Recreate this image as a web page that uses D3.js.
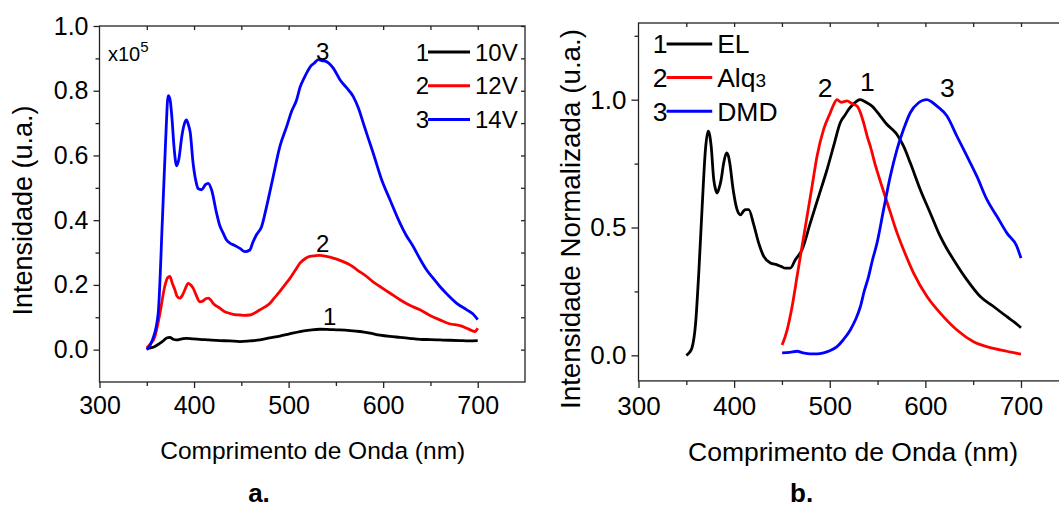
<!DOCTYPE html>
<html>
<head>
<meta charset="utf-8">
<script src="https://cdn.jsdelivr.net/npm/d3@7"></script>
<style>
  body { margin: 0; background: #fff; }
  svg text { font-family: "Liberation Sans", Arial, sans-serif; fill: #000; }
  .frame { fill: none; stroke: #222; stroke-width: 1.3; }
  .tick line { stroke: #222; stroke-width: 1.3; }
  .curve { fill: none; stroke-width: 2.8; stroke-linejoin: round; }
</style>
</head>
<body>
<svg width="1059" height="509"></svg>
<script>
var svg = d3.select("svg");

// panel a. : spectra at three voltages  [wavelength nm, intensity x10^5]
var v10 = [[350,0.003],[355,0.006],[358.5,0.01],[363,0.018],[367.3,0.027],[371,0.036],[374.4,0.038],[378,0.032],
  [381.5,0.03],[387,0.033],[392,0.035],[399,0.033],[406,0.032],[416,0.03],[427.3,0.028],[438,0.027],[448.5,0.025],
  [459,0.027],[469.7,0.03],[480,0.036],[490.8,0.042],[500,0.048],[512,0.056],[522,0.06],[533,0.063],[544,0.062],
  [554,0.061],[565,0.059],[575.4,0.056],[586,0.051],[596.6,0.045],[607,0.041],[617.8,0.038],[628,0.035],[639,0.032],
  [650,0.031],[660,0.03],[670,0.029],[681.3,0.028],[690,0.027],[700,0.028]];

var v12 = [[350,0.005],[353,0.015],[358.5,0.04],[363.8,0.11],[369,0.195],[372,0.222],[374.4,0.226],[377,0.205],
  [379.7,0.185],[382,0.165],[385,0.159],[388,0.17],[390.3,0.185],[393.8,0.205],[396.5,0.2],[399,0.19],[402,0.17],
  [406,0.148],[409,0.15],[413,0.158],[415,0.159],[418,0.152],[420.2,0.143],[427.3,0.128],[432,0.118],[437.9,0.112],
  [443,0.108],[448.5,0.107],[453,0.106],[459,0.107],[464,0.113],[469.7,0.123],[475,0.132],[480.3,0.143],[485,0.16],
  [490.8,0.18],[496,0.2],[501.4,0.22],[507,0.245],[512,0.267],[517,0.28],[522.5,0.288],[528,0.29],[533,0.291],
  [540,0.288],[547.2,0.283],[555,0.275],[564.9,0.262],[573,0.245],[582.5,0.226],[589,0.21],[596.6,0.195],[607,0.175],
  [617.8,0.154],[628,0.137],[639,0.123],[650,0.105],[660,0.092],[670,0.08],[681.3,0.074],[690,0.064],[697,0.056],
  [700,0.066]];

var v14 = [[350,0],[356,0.03],[362,0.11],[366.5,0.4],[370,0.65],[372.6,0.785],[374.5,0.775],[376.5,0.72],[379,0.62],
  [381.5,0.568],[384,0.59],[387,0.658],[390,0.7],[392,0.71],[394,0.695],[396,0.67],[399,0.576],[402,0.52],
  [404.5,0.497],[408,0.494],[412,0.51],[415,0.514],[418.5,0.494],[423.8,0.422],[427,0.385],[430.8,0.36],[434,0.34],
  [437.9,0.329],[443,0.322],[448.5,0.313],[453.8,0.303],[459,0.308],[462,0.33],[466,0.355],[471.4,0.38],
  [476.7,0.442],[483.7,0.535],[490.8,0.628],[497.9,0.689],[503,0.735],[508.5,0.772],[512,0.81],[516.5,0.84],
  [520,0.86],[523.6,0.877],[527,0.885],[531.3,0.896],[535,0.893],[540,0.89],[547.2,0.87],[554.3,0.834],[561,0.81],
  [568.4,0.782],[574,0.745],[579,0.7],[584,0.655],[589.5,0.607],[598.4,0.525],[607.2,0.463],[617.8,0.391],
  [624,0.355],[631.9,0.318],[639,0.28],[646,0.246],[653,0.22],[660,0.195],[668,0.17],[677.8,0.143],[688.4,0.123],
  [695,0.11],[700,0.093]];

// panel b. : normalized spectra
var el = [[350,0],[353,0.01],[356,0.03],[359.6,0.12],[363,0.32],[366.6,0.583],[370,0.805],[372.8,0.877],[374.5,0.86],
  [376,0.818],[378.7,0.687],[380.5,0.65],[382.2,0.635],[384,0.65],[386.4,0.687],[389,0.75],[392,0.792],[394,0.78],
  [395.4,0.753],[399,0.648],[403.1,0.57],[406.6,0.55],[410,0.565],[411.8,0.57],[415.3,0.57],[420.5,0.511],
  [425.7,0.439],[431,0.387],[437.9,0.361],[444.9,0.354],[449,0.348],[453.6,0.341],[458.8,0.341],[464,0.374],
  [471,0.413],[479.7,0.518],[488.4,0.622],[497.2,0.727],[504,0.818],[511,0.91],[516,0.94],[519.8,0.962],[524,0.98],
  [528.5,0.995],[532,1.0],[538,0.99],[544.2,0.975],[552.9,0.936],[559.9,0.903],[565,0.885],[570.3,0.864],
  [577.2,0.818],[584.2,0.753],[594.7,0.648],[605.1,0.557],[615.6,0.465],[622,0.42],[629.5,0.374],[643.5,0.295],
  [657.4,0.23],[671.3,0.191],[685.3,0.151],[693,0.13],[700,0.108]];

var alq3 = [[450.2,0.04],[455.4,0.099],[460.6,0.19],[465.8,0.308],[471,0.426],[476.3,0.544],[481.5,0.661],
  [486.7,0.779],[493.6,0.884],[500.6,0.949],[504,0.98],[507.6,1.0],[512,0.99],[518,0.995],[523,0.985],[528.5,0.975],
  [532,0.95],[535.4,0.91],[539.7,0.85],[542.4,0.818],[548,0.74],[553.8,0.67],[563.3,0.56],[570.3,0.48],
  [577.2,0.413],[587.7,0.322],[601.7,0.23],[615.6,0.165],[633,0.099],[650.4,0.053],[671.3,0.027],[686,0.015],
  [700,0.005]];

var dmd = [[450.2,0.01],[458,0.012],[465.8,0.016],[472,0.01],[479.7,0.006],[487,0.006],[493.6,0.01],[500,0.018],
  [507.6,0.034],[514,0.06],[521.5,0.099],[527,0.14],[532,0.19],[536,0.25],[540.6,0.308],[544.5,0.37],[549.4,0.439],
  [556.3,0.57],[563.3,0.7],[570.3,0.805],[577.2,0.884],[584.2,0.949],[592.9,0.988],[597,0.997],[601.7,1.0],
  [606,0.993],[612.1,0.975],[622.6,0.936],[633,0.857],[643.5,0.779],[653.9,0.7],[664.4,0.609],[674.8,0.544],
  [685.3,0.478],[695.7,0.426],[700,0.38]];

// tick values and legend labels
var xTicks = [300, 400, 500, 600, 700];
var xMinor = [350, 450, 550, 650];
var xInner = [350, 400, 450, 500, 550, 600, 650, 700];
var yTicksA = [0.0, 0.2, 0.4, 0.6, 0.8, 1.0];
var yMinorA = [0.1, 0.3, 0.5, 0.7, 0.9];
var yTicksB = [0.0, 0.5, 1.0];
var yMinorB = [0.25, 0.75, 1.25];
var legendA = ["10V", "12V", "14V"];
var legendB = ["EL", "Alq", "DMD"];
var colors = ["#000000", "#ff0000", "#0000ff"];

// draws one panel: frame, axes, curves
function drawPanel(p) {
    var x = d3.scaleLinear().domain([300, 750]).range(p.xr);
    var y = d3.scaleLinear().domain(p.yd).range(p.yr);
    var g = svg.append("g");
    var bottom = p.yr[0], top = p.yr[1];

    // bottom axis, major + minor
    g.append("g").attr("transform", "translate(0," + bottom + ")")
        .call(d3.axisBottom(x).tickValues(xTicks).tickSize(p.tick).tickPadding(p.padX).tickFormat(d3.format("d")))
        .call(function(a) { a.select(".domain").remove(); a.selectAll("text").style("font-size", p.fs + "px"); });
    g.append("g").attr("transform", "translate(0," + bottom + ")")
        .call(d3.axisBottom(x).tickValues(xMinor).tickSize(4).tickFormat(""))
        .select(".domain").remove();
    // top axis, inner ticks
    g.append("g").attr("transform", "translate(0," + top + ")")
        .call(d3.axisTop(x).tickValues(xInner).tickSize(-4).tickFormat(""))
        .select(".domain").remove();

    // left axis
    g.append("g").attr("transform", "translate(" + p.xr[0] + ",0)")
        .call(d3.axisLeft(y).tickValues(p.yTicks).tickSize(p.tick).tickPadding(p.padY).tickFormat(d3.format(".1f")))
        .call(function(a) { a.select(".domain").remove(); a.selectAll("text").style("font-size", p.fs + "px"); });
    g.append("g").attr("transform", "translate(" + p.xr[0] + ",0)")
        .call(d3.axisLeft(y).tickValues(p.yMinor).tickSize(4).tickFormat(""))
        .select(".domain").remove();
    if (p.rightTicks) {
        g.append("g").attr("transform", "translate(" + x(750) + ",0)")
            .call(d3.axisRight(y).tickValues(p.rightTicks).tickSize(-4).tickFormat(""))
            .select(".domain").remove();
    }

    g.append("rect").attr("class", "frame")
        .attr("x", p.xr[0]).attr("y", top)
        .attr("width", x(750) - p.xr[0]).attr("height", bottom - top);

    // spectra
    var line = d3.line()
        .x(function(d) { return x(d[0]); })
        .y(function(d) { return y(d[1]); })
        .curve(d3.curveMonotoneX);
    p.series.forEach(function(s, i) {
        g.append("path").attr("class", "curve")
            .attr("stroke", colors[i]).attr("d", line(s));
    });

    // numbers over the curves
    p.marks.forEach(function(m) {
        g.append("text").attr("x", m[1]).attr("y", m[2])
            .attr("text-anchor", "middle").style("font-size", p.fsl + "px").text(m[0]);
    });

    // legend
    var lg = g.append("g");
    p.legend.forEach(function(name, i) {
        var yy = p.lgY + i * p.lgStep;
        lg.append("text").attr("x", p.lgX0 + 1).attr("y", yy).attr("dy", "0.36em")
            .attr("text-anchor", "end").style("font-size", p.fsl + "px").text(i + 1);
        lg.append("line").attr("x1", p.lgX0).attr("x2", p.lgX1).attr("y1", yy).attr("y2", yy)
            .attr("stroke", colors[i]).attr("stroke-width", 3);
        var t = lg.append("text").attr("x", p.lgX1 + 5).attr("y", yy).attr("dy", "0.36em")
            .style("font-size", p.fsl + "px").text(name);
        if (name === "Alq") t.append("tspan").style("font-size", (p.fsl * 0.72) + "px").text("3");
    });

    // axis titles
    g.append("text").attr("x", p.titleX[0]).attr("y", p.titleX[1])
        .attr("text-anchor", "middle").style("font-size", p.fsx + "px")
        .text("Comprimento de Onda (nm)");
    g.append("text").attr("transform", "translate(" + p.titleY[0] + "," + p.titleY[1] + ") rotate(-90)")
        .attr("text-anchor", "middle").attr("dy", "0.36em").style("font-size", p.fsy + "px")
        .text(p.yTitle);
    g.append("text").attr("x", p.tag[0]).attr("y", p.tag[1])
        .attr("text-anchor", "middle").attr("font-weight", "bold").style("font-size", "26px")
        .text(p.tag[2]);
    return g;
}

var ga = drawPanel({
    xr: [99.5, 525], yd: [-0.1, 1.0], yr: [382, 26],
    yTicks: yTicksA, yMinor: yMinorA, rightTicks: d3.range(0, 11).map(function(i) { return i / 10; }),
    tick: 6, padX: 8, padY: 5, fs: 25, fsl: 24, fsx: 24.5, fsy: 27,
    series: [v10, v12, v14],
    marks: [["3", 322.8, 59.5], ["2", 322.8, 252], ["1", 329.6, 324.5]],
    legend: legendA, lgX0: 428, lgX1: 470, lgY: 52, lgStep: 33.7,
    titleX: [312.7, 459], titleY: [22, 210.5], yTitle: "Intensidade (u.a.)",
    tag: [259, 502, "a."]
});

// scale factor note inside panel a.
var sc = ga.append("text").attr("x", 108).attr("y", 61).style("font-size", "20px").text("x10");
sc.append("tspan").attr("dy", -9).style("font-size", "15px").text("5");

drawPanel({
    xr: [638.5, 1068.8], yd: [-0.1, 1.3], yr: [380.9, 23],
    yTicks: yTicksB, yMinor: yMinorB, rightTicks: null,
    tick: 7, padX: 9, padY: 5, fs: 26, fsl: 26.5, fsx: 26.5, fsy: 27.8,
    series: [el, alq3, dmd],
    marks: [["2", 825.2, 96.5], ["1", 867.4, 91], ["3", 947.3, 96.5]],
    legend: legendB, lgX0: 666.6, lgX1: 712.2, lgY: 43.9, lgStep: 33.7,
    titleX: [853, 461], titleY: [569.7, 219], yTitle: "Intensidade Normalizada (u.a.)",
    tag: [801.6, 502, "b."]
});
</script>
</body>
</html>
